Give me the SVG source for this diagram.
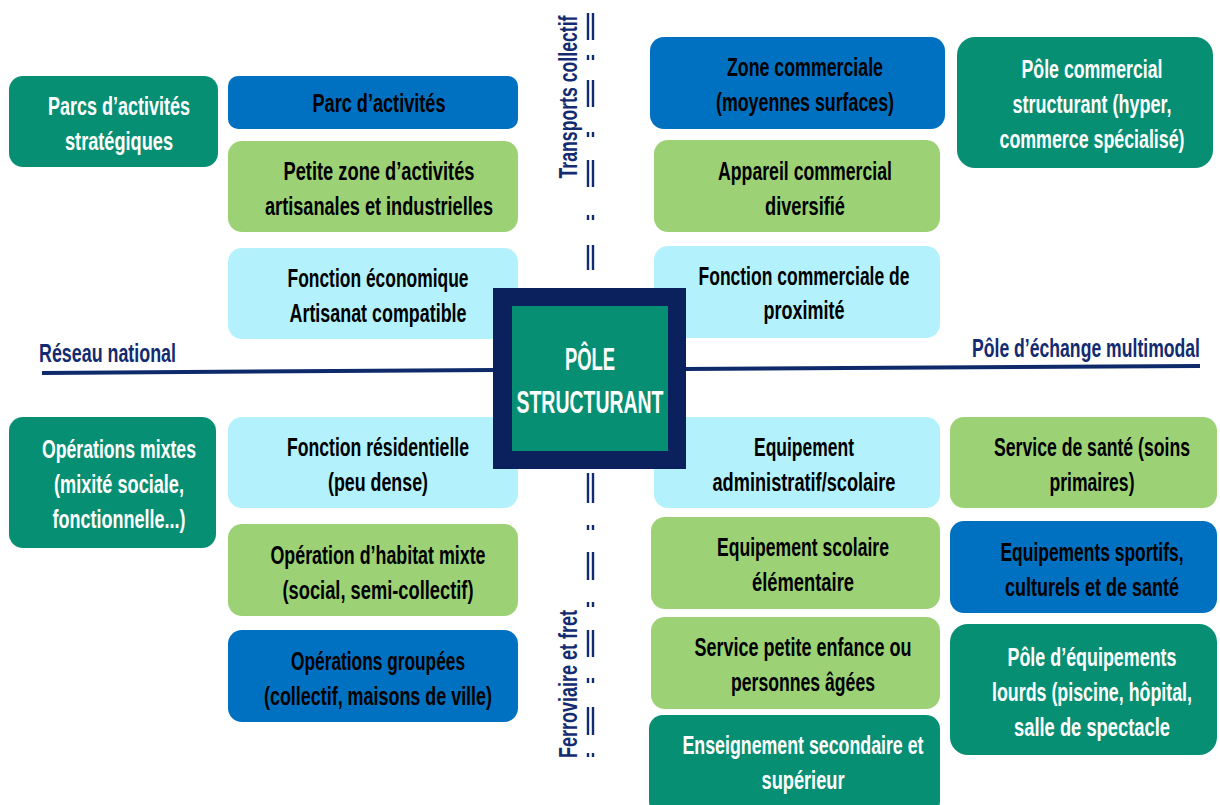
<svg xmlns="http://www.w3.org/2000/svg" width="1220" height="805" viewBox="0 0 1220 805">
<style>
.t{font-family:"Liberation Sans Narrow","Liberation Sans","DejaVu Sans Condensed",sans-serif;font-weight:bold;font-size:26.5px;text-anchor:middle}
.k{fill:#000}
.w{fill:#fff}
.teal{fill:#078F74}
.blue{fill:#0070C0}
.green{fill:#9CD275}
.cyan{fill:#B3F2FC}
.lbl{font-family:"Liberation Sans Narrow","Liberation Sans","DejaVu Sans Condensed",sans-serif;font-weight:bold;font-size:25px;fill:#132B70}
.ax{stroke:#0E2A6B;stroke-width:4;fill:none}
.dash{stroke:#132B70;stroke-width:2.4;fill:none}
</style>
<rect width="1220" height="805" fill="#fff"/>
<g id="connectors">
<line class="ax" x1="42" y1="373" x2="495" y2="370"/>
<line class="ax" x1="684" y1="369" x2="1200" y2="366"/>
<path class="dash" d="M588 13V40M588 55V60M588 80V107M588 132V137M588 160V187M588 215V220M588 245V270M593 13V40M593 55V60M593 80V107M593 132V137M593 160V187M593 215V220M593 245V270"/>
<path class="dash" d="M588 473V503M588 525V530M588 552V580M588 602V607M588 630V657M588 678V683M588 707V735M588 753V757M593 473V503M593 525V530M593 552V580M593 602V607M593 630V657M593 678V683M593 707V735M593 753V757"/>
<text class="lbl" x="39" y="362" textLength="137" lengthAdjust="spacingAndGlyphs">Réseau national</text>
<text class="lbl" x="1200" y="357" textLength="228" lengthAdjust="spacingAndGlyphs" style="text-anchor:end">Pôle d’échange multimodal</text>
<text class="lbl" transform="translate(577,97) rotate(-90)" textLength="163" lengthAdjust="spacingAndGlyphs" style="text-anchor:middle">Transports collectif</text>
<text class="lbl" transform="translate(577,684) rotate(-90)" textLength="148" lengthAdjust="spacingAndGlyphs" style="text-anchor:middle">Ferroviaire et fret</text>
</g>
<g id="n1"><rect class="teal" x="9" y="76" width="209" height="91" rx="14"/>
<text class="t w" x="119" y="115" textLength="142" lengthAdjust="spacingAndGlyphs">Parcs d’activités</text>
<text class="t w" x="119" y="150" textLength="108" lengthAdjust="spacingAndGlyphs">stratégiques</text></g>
<g id="n2"><rect class="blue" x="228" y="76" width="290" height="53" rx="10"/>
<text class="t k" x="379" y="112" textLength="133" lengthAdjust="spacingAndGlyphs">Parc d’activités</text></g>
<g id="n3"><rect class="green" x="228" y="141" width="290" height="91" rx="14"/>
<text class="t k" x="379" y="180" textLength="191" lengthAdjust="spacingAndGlyphs">Petite zone d’activités</text>
<text class="t k" x="379" y="215" textLength="228" lengthAdjust="spacingAndGlyphs">artisanales et industrielles</text></g>
<g id="n4"><rect class="cyan" x="228" y="248" width="290" height="91" rx="14"/>
<text class="t k" x="378" y="287" textLength="181" lengthAdjust="spacingAndGlyphs">Fonction économique</text>
<text class="t k" x="378" y="322" textLength="177" lengthAdjust="spacingAndGlyphs">Artisanat compatible</text></g>
<g id="n5"><rect class="teal" x="9" y="417" width="207" height="131" rx="14"/>
<text class="t w" x="119" y="458" textLength="154" lengthAdjust="spacingAndGlyphs">Opérations mixtes</text>
<text class="t w" x="119" y="493" textLength="130" lengthAdjust="spacingAndGlyphs">(mixité sociale,</text>
<text class="t w" x="119" y="528" textLength="133" lengthAdjust="spacingAndGlyphs">fonctionnelle...)</text></g>
<g id="n6"><rect class="cyan" x="228" y="417" width="290" height="91" rx="14"/>
<text class="t k" x="378" y="456" textLength="182" lengthAdjust="spacingAndGlyphs">Fonction résidentielle</text>
<text class="t k" x="378" y="491" textLength="100" lengthAdjust="spacingAndGlyphs">(peu dense)</text></g>
<g id="n7"><rect class="green" x="228" y="524" width="290" height="92" rx="14"/>
<text class="t k" x="378" y="564" textLength="215" lengthAdjust="spacingAndGlyphs">Opération d’habitat mixte</text>
<text class="t k" x="378" y="599" textLength="191" lengthAdjust="spacingAndGlyphs">(social, semi-collectif)</text></g>
<g id="n8"><rect class="blue" x="228" y="630" width="290" height="92" rx="14"/>
<text class="t k" x="378" y="670" textLength="174" lengthAdjust="spacingAndGlyphs">Opérations groupées</text>
<text class="t k" x="378" y="705" textLength="228" lengthAdjust="spacingAndGlyphs">(collectif, maisons de ville)</text></g>
<g id="n9"><rect class="blue" x="650" y="37" width="295" height="92" rx="14"/>
<text class="t k" x="805" y="76" textLength="156" lengthAdjust="spacingAndGlyphs">Zone commerciale</text>
<text class="t k" x="805" y="111" textLength="178" lengthAdjust="spacingAndGlyphs">(moyennes surfaces)</text></g>
<g id="n10"><rect class="green" x="654" y="140" width="286" height="92" rx="14"/>
<text class="t k" x="805" y="180" textLength="174" lengthAdjust="spacingAndGlyphs">Appareil commercial</text>
<text class="t k" x="805" y="215" textLength="80" lengthAdjust="spacingAndGlyphs">diversifié</text></g>
<g id="n11"><rect class="cyan" x="654" y="246" width="286" height="92" rx="14"/>
<text class="t k" x="804" y="285" textLength="211" lengthAdjust="spacingAndGlyphs">Fonction commerciale de</text>
<text class="t k" x="804" y="319" textLength="81" lengthAdjust="spacingAndGlyphs">proximité</text></g>
<g id="n12"><rect class="teal" x="957" y="37" width="256" height="131" rx="18"/>
<text class="t w" x="1092" y="78" textLength="141" lengthAdjust="spacingAndGlyphs">Pôle commercial</text>
<text class="t w" x="1092" y="113" textLength="159" lengthAdjust="spacingAndGlyphs">structurant (hyper,</text>
<text class="t w" x="1092" y="148" textLength="185" lengthAdjust="spacingAndGlyphs">commerce spécialisé)</text></g>
<g id="n13"><rect class="cyan" x="654" y="417" width="286" height="91" rx="14"/>
<text class="t k" x="804" y="456" textLength="100" lengthAdjust="spacingAndGlyphs">Equipement</text>
<text class="t k" x="804" y="491" textLength="183" lengthAdjust="spacingAndGlyphs">administratif/scolaire</text></g>
<g id="n14"><rect class="green" x="651" y="517" width="289" height="92" rx="14"/>
<text class="t k" x="803" y="556" textLength="172" lengthAdjust="spacingAndGlyphs">Equipement scolaire</text>
<text class="t k" x="803" y="591" textLength="102" lengthAdjust="spacingAndGlyphs">élémentaire</text></g>
<g id="n15"><rect class="green" x="651" y="617" width="289" height="92" rx="14"/>
<text class="t k" x="803" y="656" textLength="217" lengthAdjust="spacingAndGlyphs">Service petite enfance ou</text>
<text class="t k" x="803" y="691" textLength="144" lengthAdjust="spacingAndGlyphs">personnes âgées</text></g>
<g id="n16"><rect class="teal" x="649" y="715" width="291" height="100" rx="14"/>
<text class="t w" x="803" y="754" textLength="241" lengthAdjust="spacingAndGlyphs">Enseignement secondaire et</text>
<text class="t w" x="803" y="789" textLength="83" lengthAdjust="spacingAndGlyphs">supérieur</text></g>
<g id="n17"><rect class="green" x="950" y="417" width="267" height="91" rx="14"/>
<text class="t k" x="1092" y="456" textLength="196" lengthAdjust="spacingAndGlyphs">Service de santé (soins</text>
<text class="t k" x="1092" y="491" textLength="85" lengthAdjust="spacingAndGlyphs">primaires)</text></g>
<g id="n18"><rect class="blue" x="950" y="521" width="267" height="92" rx="14"/>
<text class="t k" x="1092" y="561" textLength="183" lengthAdjust="spacingAndGlyphs">Equipements sportifs,</text>
<text class="t k" x="1092" y="596" textLength="174" lengthAdjust="spacingAndGlyphs">culturels et de santé</text></g>
<g id="n19"><rect class="teal" x="950" y="624" width="267" height="131" rx="18"/>
<text class="t w" x="1092" y="666" textLength="169" lengthAdjust="spacingAndGlyphs">Pôle d’équipements</text>
<text class="t w" x="1092" y="701" textLength="200" lengthAdjust="spacingAndGlyphs">lourds (piscine, hôpital,</text>
<text class="t w" x="1092" y="736" textLength="156" lengthAdjust="spacingAndGlyphs">salle de spectacle</text></g>
<g id="center">
<rect x="493" y="288" width="193" height="181" fill="#0B215E"/>
<rect x="512" y="306" width="156" height="145" fill="#078F74"/>
<text class="t w" x="590" y="370" style="font-size:31px" textLength="50" lengthAdjust="spacingAndGlyphs">PÔLE</text>
<text class="t w" x="590" y="413" style="font-size:31px" textLength="147" lengthAdjust="spacingAndGlyphs">STRUCTURANT</text>
</g>
</svg>
